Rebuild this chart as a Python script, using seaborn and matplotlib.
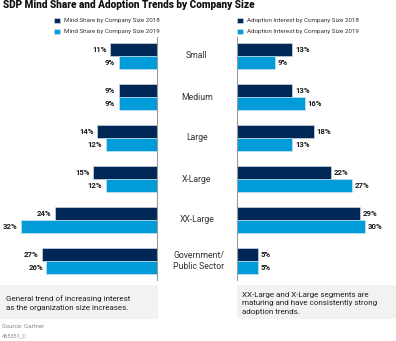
import matplotlib
matplotlib.use("Agg")
import matplotlib.pyplot as plt
import seaborn as sns
import pandas as pd
from matplotlib.patches import Rectangle

categories = ["Small", "Medium", "Large", "X-Large", "XX-Large", "Government/\nPublic Sector"]
mind_2018 = [11, 9, 14, 15, 24, 27]
mind_2019 = [9, 9, 12, 12, 32, 26]
adopt_2018 = [13, 13, 18, 22, 29, 5]
adopt_2019 = [9, 16, 13, 27, 30, 5]
mind_labels = ["Mind Share by Company Size 2018", "Mind Share by Company Size 2019"]
adopt_labels = ["Adoption Interest by Company Size 2018", "Adoption Interest by Company Size 2019"]

title = "SDP Mind Share and Adoption Trends by Company Size"
note_left = "General trend of increasing interest\nas the organization size increases."
note_right = "XX-Large and X-Large segments are\nmaturing and have consistently strong\nadoption trends."
source = "Source: Gartner"
doc_id = "465351_C"

DARK = "#002856"
LIGHT = "#009CDA"
TXT = "#1a1a1a"

sns.set_theme(style="white")
plt.rcParams['font.family'] = ['Roboto', 'DejaVu Sans']

W, H = 396, 341
fig = plt.figure(figsize=(W / 100, H / 100), dpi=100)

def fx(px):
    return px / W

def fy(py):
    return 1 - py / H

ax_top, ax_bot = 37, 280
ax_l = fig.add_axes([fx(0), fy(ax_bot), fx(157), (ax_bot - ax_top) / H])
ax_r = fig.add_axes([fx(237), fy(ax_bot), fx(159), (ax_bot - ax_top) / H])

df_l = pd.DataFrame({
    "cat": categories * 2,
    "val": mind_2018 + mind_2019,
    "series": [mind_labels[0]] * 6 + [mind_labels[1]] * 6,
})
df_r = pd.DataFrame({
    "cat": categories * 2,
    "val": adopt_2018 + adopt_2019,
    "series": [adopt_labels[0]] * 6 + [adopt_labels[1]] * 6,
})

for ax, df, labels, side in [(ax_l, df_l, mind_labels, "left"), (ax_r, df_r, adopt_labels, "right")]:
    sns.barplot(data=df, y="cat", x="val", hue="series", order=categories,
                hue_order=labels, palette=[DARK, LIGHT], width=0.64,
                orient="h", ax=ax, edgecolor="#dde6ee", linewidth=0.4, saturation=1)
    for cont in ax.containers:
        for patch, v in zip(cont.patches, cont.datavalues):
            yc = patch.get_y() + patch.get_height() / 2
            off = -2.5 if side == "left" else 2
            ax.annotate(f"{int(v)}%", (patch.get_width(), yc), xytext=(off, 0),
                        textcoords="offset points", va="center",
                        ha="right" if side == "left" else "left",
                        fontsize=5.6, fontweight="bold", color=TXT)
    ax.set_ylim(5.46, -0.46)
    ax.set_xlabel("")
    ax.set_ylabel("")
    ax.set_xticks([])
    ax.set_yticks([])
    for s in ax.spines.values():
        s.set_visible(False)

ax_l.set_xlim(36.9, 0)
ax_r.set_xlim(0, 37.4)
ax_l.spines["right"].set_visible(True)
ax_l.spines["right"].set_color("#9a9a9a")
ax_l.spines["right"].set_linewidth(0.8)
ax_r.spines["left"].set_visible(True)
ax_r.spines["left"].set_color("#9a9a9a")
ax_r.spines["left"].set_linewidth(0.8)

# legends
for ax, x0, labels in [(ax_l, 54, mind_labels), (ax_r, 237, adopt_labels)]:
    h, l = ax.get_legend_handles_labels()
    ax.legend(h, l, loc="upper left", bbox_to_anchor=(fx(x0), fy(17.5)),
              bbox_transform=fig.transFigure, frameon=False, fontsize=4.5,
              handlelength=0.9, handleheight=0.9, handletextpad=0.7,
              labelspacing=0.85, borderpad=0, borderaxespad=0, labelcolor="#333333")

# category labels
for i, c in enumerate(categories):
    y = 56 + 41 * i
    if "\n" in c:
        fig.text(fx(173), fy(y), c, ha="left", va="center",
                 fontsize=6.2, color="#333333", linespacing=1.2)
    else:
        fig.text(fx(197), fy(y), c, ha="center", va="center",
                 fontsize=6.2, color="#333333")

# title
fig.text(fx(3), fy(5.5), title, ha="left", va="center", fontsize=7.2,
         fontweight="heavy", color="#111111")

# note boxes
fig.patches.append(Rectangle((fx(0), fy(319)), fx(158), (319 - 285) / H,
                             transform=fig.transFigure, facecolor="#f2f2f2",
                             edgecolor="none", zorder=0))
fig.patches.append(Rectangle((fx(237), fy(319)), fx(159), (319 - 285) / H,
                             transform=fig.transFigure, facecolor="#f2f2f2",
                             edgecolor="none", zorder=0))
fig.text(fx(6), fy(303), note_left, ha="left", va="center", fontsize=5.8,
         color="#222222", linespacing=1.45)
fig.text(fx(242), fy(303.5), note_right, ha="left", va="center", fontsize=5.8,
         color="#222222", linespacing=1.45)
fig.text(fx(2), fy(326), source, ha="left", va="center", fontsize=4.4, color="#888888")
fig.text(fx(2), fy(335.5), doc_id, ha="left", va="center", fontsize=4.0, color="#888888")

fig.savefig("out.png", dpi=100)
